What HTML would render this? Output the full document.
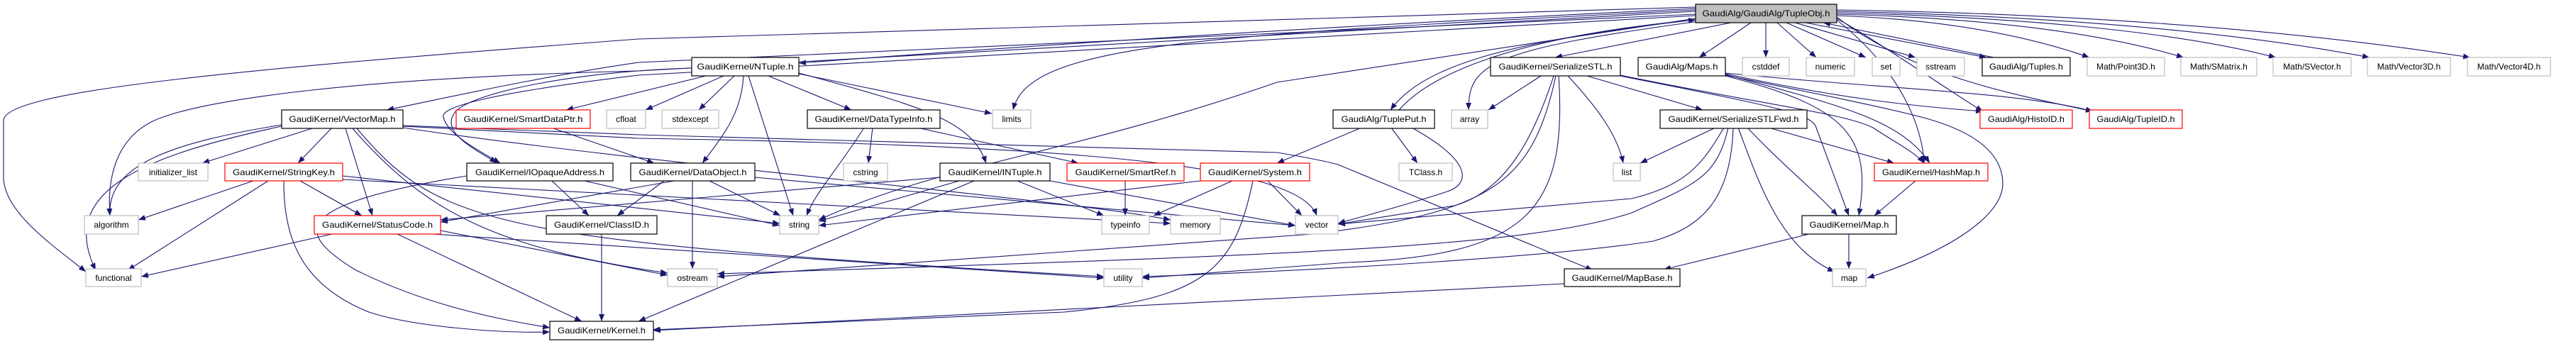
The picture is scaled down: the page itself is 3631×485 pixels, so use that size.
<!DOCTYPE html>
<html><head><meta charset="utf-8"><style>
html,body{margin:0;padding:0;background:#fff;}
svg{display:block;}
text{font-family:"Liberation Sans",sans-serif;font-size:12px;fill:#000;}
.e{fill:none;stroke:#191970;stroke-width:1.1;marker-end:url(#a);}
</style></head><body>
<svg width="3631" height="485" viewBox="0 0 3631 485" xmlns="http://www.w3.org/2000/svg">
<defs><marker id="a" markerUnits="userSpaceOnUse" markerWidth="11" markerHeight="8" refX="10" refY="4" orient="auto"><path d="M0,0 L10,4 L0,8 z" fill="#191970"/></marker></defs>
<rect width="3631" height="485" fill="#fff"/>
<g>
<path class="e" d="M2440,32 L2192,81"/>
<path class="e" d="M2468,32 L2395,81"/>
<path class="e" d="M2489,32 L2489,81"/>
<path class="e" d="M2505,32 L2560,81"/>
<path class="e" d="M2518,32 L2630,81"/>
<path class="e" d="M2530,32 L2700,81"/>
<path class="e" d="M2545,32 L2800,81"/>
<path class="e" d="M2810,81 L2570,32"/>
<path class="e" d="M2589,22 Q2800,30 2945,81"/>
<path class="e" d="M2589,20 Q2900,28 3078,81"/>
<path class="e" d="M2589,18 Q3000,28 3208,81"/>
<path class="e" d="M2589,16 Q3050,26 3340,81"/>
<path class="e" d="M2589,14 Q3100,22 3482,81"/>
<path class="e" d="M2589,26 C2650,60 2750,130 2795,157"/>
<path class="e" d="M2589,24 C2700,110 2850,135 2950,157"/>
<path class="e" d="M2589,28 C2680,100 2710,180 2712,230"/>
<path class="e" d="M2432,106 C2550,130 2650,150 2700,163 C2790,185 2823,220 2823,259 C2823,300 2760,350 2632,392"/>
<path class="e" d="M2390,12 Q1700,45 1126,89"/>
<path class="e" d="M2390,14 C1700,50 1450,60 1428,155"/>
<path class="e" d="M2390,10 L900,55 C300,100 5,130 5,170 L5,250 C5,300 80,350 121,383"/>
<path class="e" d="M2390,16 L900,100 C500,110 300,140 230,165 C170,185 150,240 155,304"/>
<path class="e" d="M2390,20 L900,88 C750,110 620,140 545,155"/>
<path class="e" d="M2390,22 L900,106 C700,130 620,150 625,165 C630,190 680,215 705,230"/>
<path class="e" d="M2390,28 C2100,60 2000,100 1960,155"/>
<path class="e" d="M1972,155 C2020,100 2150,50 2390,28"/>
<path class="e" d="M2395,30 C2100,70 2070,90 2070,155"/>
<path class="e" d="M2390,26 L1800,116 C1500,220 1330,230 1154,310"/>
<path class="e" d="M995,107 L798,155"/>
<path class="e" d="M1020,107 L910,155"/>
<path class="e" d="M1035,107 L985,155"/>
<path class="e" d="M1048,107 C1045,160 1020,190 990,230"/>
<path class="e" d="M1055,107 L1118,304"/>
<path class="e" d="M1083,107 L1200,155"/>
<path class="e" d="M1126,104 L1398,160"/>
<path class="e" d="M1126,103 C1300,150 1370,170 1390,230"/>
<path class="e" d="M975,96 C820,100 660,130 640,160 C620,190 680,215 700,230"/>
<path class="e" d="M780,181 L922,230"/>
<path class="e" d="M440,181 L285,230"/>
<path class="e" d="M467,181 L420,230"/>
<path class="e" d="M487,181 L525,304"/>
<path class="e" d="M397,176 C250,200 150,230 155,304"/>
<path class="e" d="M397,178 C200,220 80,270 135,381"/>
<path class="e" d="M497,181 C600,300 700,350 941,385"/>
<path class="e" d="M503,181 C620,320 700,340 1556,390"/>
<path class="e" d="M568,177 L900,190 L1800,215 Q1860,225 1886,232 L2245,381"/>
<path class="e" d="M568,178 L900,195 C1500,205 1830,230 1856,304"/>
<path class="e" d="M568,180 C900,230 1500,280 1650,310"/>
<path class="e" d="M357,255 L195,310"/>
<path class="e" d="M378,255 L180,381"/>
<path class="e" d="M423,255 L510,304"/>
<path class="e" d="M400,255 C400,330 420,400 520,440 C580,460 700,470 775,468"/>
<path class="e" d="M483,248 L1099,315"/>
<path class="e" d="M483,253 L1650,315"/>
<path class="e" d="M778,255 L830,304"/>
<path class="e" d="M658,248 C400,290 420,330 500,380 C600,430 700,450 775,462"/>
<path class="e" d="M824,255 L1099,318"/>
<path class="e" d="M950,255 L621,313"/>
<path class="e" d="M936,255 L870,304"/>
<path class="e" d="M976,255 L976,379"/>
<path class="e" d="M1000,255 L1100,304"/>
<path class="e" d="M1064,250 L1826,318"/>
<path class="e" d="M1325,250 L621,310"/>
<path class="e" d="M1352,255 L1154,312"/>
<path class="e" d="M1373,255 L900,453"/>
<path class="e" d="M1434,255 L1556,304"/>
<path class="e" d="M1480,255 L1826,318"/>
<path class="e" d="M1218,180 C1180,240 1150,270 1137,304"/>
<path class="e" d="M1230,180 L1224,230"/>
<path class="e" d="M1293,180 L1520,230"/>
<path class="e" d="M1586,255 L1586,304"/>
<path class="e" d="M1692,255 L1154,318"/>
<path class="e" d="M1737,255 L1626,304"/>
<path class="e" d="M1787,255 L1835,304"/>
<path class="e" d="M1766,255 C1740,380 1700,420 1500,440 L920,465"/>
<path class="e" d="M1919,180 L1800,230"/>
<path class="e" d="M1961,180 L1998,230"/>
<path class="e" d="M1990,180 C2080,230 2070,260 2040,270 C1980,290 1920,305 1886,315"/>
<path class="e" d="M2172,107 L2098,155"/>
<path class="e" d="M2210,107 C2250,150 2280,190 2288,230"/>
<path class="e" d="M2237,107 L2400,155"/>
<path class="e" d="M2284,107 C2500,150 2555,160 2560,180 L2606,304"/>
<path class="e" d="M2284,106 C2500,150 2600,160 2640,180 C2670,200 2700,215 2712,230"/>
<path class="e" d="M2190,107 C2160,200 2120,270 2050,290 L1886,316"/>
<path class="e" d="M2193,107 C2160,260 2100,300 1850,330 L1011,390"/>
<path class="e" d="M2197,107 C2210,300 2150,360 1900,370 L1610,392"/>
<path class="e" d="M2418,180 L2312,230"/>
<path class="e" d="M2430,180 C2400,230 2380,260 2300,280 L1886,316"/>
<path class="e" d="M2436,180 C2420,250 2390,260 2300,300 C2150,350 1800,360 1011,386"/>
<path class="e" d="M2443,180 C2440,280 2400,320 2330,340 C2200,360 1900,380 1610,390"/>
<path class="e" d="M2450,180 C2480,260 2510,350 2586,383"/>
<path class="e" d="M2463,180 C2520,240 2560,270 2590,304"/>
<path class="e" d="M2493,180 L2670,230"/>
<path class="e" d="M2700,255 L2642,304"/>
<path class="e" d="M2550,330 L2345,380"/>
<path class="e" d="M2606,330 L2606,379"/>
<path class="e" d="M2205,400 L921,466"/>
<path class="e" d="M2432,105 C2600,150 2680,170 2720,230"/>
<path class="e" d="M2432,107 C2600,150 2640,190 2620,304"/>
<path class="e" d="M2432,104 C2600,140 2700,150 2795,157"/>
<path class="e" d="M2432,103 C2650,125 2850,130 2950,157"/>
<path class="e" d="M468,330 L199,390"/>
<path class="e" d="M560,330 L820,453"/>
<path class="e" d="M610,330 L1556,392"/>
<path class="e" d="M621,325 L941,388"/>
<path class="e" d="M848,330 L848,453"/>
</g>
<g stroke-width="1.2">
<rect x="2390" y="6" width="199" height="26" fill="#bfbfbf" stroke="#000"/><text x="2489.5" y="23" text-anchor="middle" textLength="180" lengthAdjust="spacingAndGlyphs">GaudiAlg/GaudiAlg/TupleObj.h</text>
<g fill="#fff">
<rect x="975" y="81" width="151" height="26" stroke="#000"/>
<rect x="2101" y="81" width="183" height="26" stroke="#000"/>
<rect x="2309" y="81" width="123" height="26" stroke="#000"/>
<rect x="2456" y="81" width="66" height="26" stroke="#bfbfbf"/>
<rect x="2546" y="81" width="68" height="26" stroke="#bfbfbf"/>
<rect x="2639" y="81" width="39" height="26" stroke="#bfbfbf"/>
<rect x="2702" y="81" width="67" height="26" stroke="#bfbfbf"/>
<rect x="2794" y="81" width="124" height="26" stroke="#000"/>
<rect x="2942" y="81" width="109" height="26" stroke="#bfbfbf"/>
<rect x="3074" y="81" width="107" height="26" stroke="#bfbfbf"/>
<rect x="3204" y="81" width="110" height="26" stroke="#bfbfbf"/>
<rect x="3337" y="81" width="117" height="26" stroke="#bfbfbf"/>
<rect x="3478" y="81" width="117" height="26" stroke="#bfbfbf"/>
<rect x="397" y="155" width="171" height="26" stroke="#000"/>
<rect x="643" y="155" width="189" height="26" stroke="#ff0000"/>
<rect x="855" y="155" width="55" height="26" stroke="#bfbfbf"/>
<rect x="933" y="155" width="80" height="26" stroke="#bfbfbf"/>
<rect x="1138" y="155" width="187" height="26" stroke="#000"/>
<rect x="1399" y="155" width="54" height="26" stroke="#bfbfbf"/>
<rect x="1879" y="155" width="143" height="26" stroke="#000"/>
<rect x="2046" y="155" width="51" height="26" stroke="#bfbfbf"/>
<rect x="2340" y="155" width="207" height="26" stroke="#000"/>
<rect x="2791" y="155" width="130" height="26" stroke="#ff0000"/>
<rect x="2945" y="155" width="131" height="26" stroke="#ff0000"/>
<rect x="195" y="230" width="98" height="25" stroke="#bfbfbf"/>
<rect x="317" y="230" width="166" height="25" stroke="#ff0000"/>
<rect x="658" y="230" width="206" height="25" stroke="#000"/>
<rect x="889" y="230" width="175" height="25" stroke="#000"/>
<rect x="1189" y="230" width="62" height="25" stroke="#bfbfbf"/>
<rect x="1325" y="230" width="155" height="25" stroke="#000"/>
<rect x="1504" y="230" width="165" height="25" stroke="#ff0000"/>
<rect x="1692" y="230" width="154" height="25" stroke="#ff0000"/>
<rect x="1972" y="230" width="75" height="25" stroke="#bfbfbf"/>
<rect x="2274" y="230" width="38" height="25" stroke="#bfbfbf"/>
<rect x="2642" y="230" width="160" height="25" stroke="#ff0000"/>
<rect x="119" y="304" width="76" height="26" stroke="#bfbfbf"/>
<rect x="443" y="304" width="178" height="26" stroke="#ff0000"/>
<rect x="770" y="304" width="156" height="26" stroke="#000"/>
<rect x="1099" y="304" width="55" height="26" stroke="#bfbfbf"/>
<rect x="1553" y="304" width="67" height="26" stroke="#bfbfbf"/>
<rect x="1650" y="304" width="70" height="26" stroke="#bfbfbf"/>
<rect x="1826" y="304" width="60" height="26" stroke="#bfbfbf"/>
<rect x="2540" y="304" width="133" height="26" stroke="#000"/>
<rect x="121" y="379" width="78" height="25" stroke="#bfbfbf"/>
<rect x="941" y="379" width="70" height="25" stroke="#bfbfbf"/>
<rect x="1556" y="379" width="54" height="25" stroke="#bfbfbf"/>
<rect x="2205" y="379" width="163" height="25" stroke="#000"/>
<rect x="2583" y="379" width="47" height="25" stroke="#bfbfbf"/>
<rect x="775" y="453" width="146" height="26" stroke="#000"/>
</g>
</g>
<g text-anchor="middle">
<text x="1050.5" y="98" textLength="136" lengthAdjust="spacingAndGlyphs">GaudiKernel/NTuple.h</text>
<text x="2192.5" y="98" textLength="160" lengthAdjust="spacingAndGlyphs">GaudiKernel/SerializeSTL.h</text>
<text x="2370.5" y="98" textLength="102" lengthAdjust="spacingAndGlyphs">GaudiAlg/Maps.h</text>
<text x="2489" y="98">cstddef</text>
<text x="2580" y="98">numeric</text>
<text x="2658.5" y="98">set</text>
<text x="2735.5" y="98">sstream</text>
<text x="2856" y="98" textLength="104" lengthAdjust="spacingAndGlyphs">GaudiAlg/Tuples.h</text>
<text x="2996.5" y="98">Math/Point3D.h</text>
<text x="3127.5" y="98">Math/SMatrix.h</text>
<text x="3259" y="98">Math/SVector.h</text>
<text x="3395.5" y="98">Math/Vector3D.h</text>
<text x="3536.5" y="98">Math/Vector4D.h</text>
<text x="482.5" y="172" textLength="150" lengthAdjust="spacingAndGlyphs">GaudiKernel/VectorMap.h</text>
<text x="737.5" y="172" textLength="168" lengthAdjust="spacingAndGlyphs">GaudiKernel/SmartDataPtr.h</text>
<text x="882.5" y="172">cfloat</text>
<text x="973" y="172">stdexcept</text>
<text x="1231.5" y="172" textLength="166" lengthAdjust="spacingAndGlyphs">GaudiKernel/DataTypeInfo.h</text>
<text x="1426" y="172">limits</text>
<text x="1950.5" y="172" textLength="120" lengthAdjust="spacingAndGlyphs">GaudiAlg/TuplePut.h</text>
<text x="2071.5" y="172">array</text>
<text x="2443.5" y="172" textLength="184" lengthAdjust="spacingAndGlyphs">GaudiKernel/SerializeSTLFwd.h</text>
<text x="2856" y="172" textLength="108" lengthAdjust="spacingAndGlyphs">GaudiAlg/HistoID.h</text>
<text x="3010.5" y="172" textLength="110" lengthAdjust="spacingAndGlyphs">GaudiAlg/TupleID.h</text>
<text x="244" y="247">initializer_list</text>
<text x="400" y="247" textLength="144" lengthAdjust="spacingAndGlyphs">GaudiKernel/StringKey.h</text>
<text x="761" y="247" textLength="182" lengthAdjust="spacingAndGlyphs">GaudiKernel/IOpaqueAddress.h</text>
<text x="976.5" y="247" textLength="152" lengthAdjust="spacingAndGlyphs">GaudiKernel/DataObject.h</text>
<text x="1220" y="247">cstring</text>
<text x="1402.5" y="247" textLength="132" lengthAdjust="spacingAndGlyphs">GaudiKernel/INTuple.h</text>
<text x="1586.5" y="247" textLength="142" lengthAdjust="spacingAndGlyphs">GaudiKernel/SmartRef.h</text>
<text x="1769" y="247" textLength="132" lengthAdjust="spacingAndGlyphs">GaudiKernel/System.h</text>
<text x="2009.5" y="247">TClass.h</text>
<text x="2293" y="247">list</text>
<text x="2722" y="247" textLength="138" lengthAdjust="spacingAndGlyphs">GaudiKernel/HashMap.h</text>
<text x="157" y="321">algorithm</text>
<text x="532" y="321" textLength="156" lengthAdjust="spacingAndGlyphs">GaudiKernel/StatusCode.h</text>
<text x="848" y="321" textLength="134" lengthAdjust="spacingAndGlyphs">GaudiKernel/ClassID.h</text>
<text x="1126.5" y="321">string</text>
<text x="1586.5" y="321">typeinfo</text>
<text x="1685" y="321">memory</text>
<text x="1856" y="321">vector</text>
<text x="2606.5" y="321" textLength="112" lengthAdjust="spacingAndGlyphs">GaudiKernel/Map.h</text>
<text x="160" y="396">functional</text>
<text x="976" y="396">ostream</text>
<text x="1583" y="396">utility</text>
<text x="2286.5" y="396" textLength="142" lengthAdjust="spacingAndGlyphs">GaudiKernel/MapBase.h</text>
<text x="2606.5" y="396">map</text>
<text x="848" y="470" textLength="124" lengthAdjust="spacingAndGlyphs">GaudiKernel/Kernel.h</text>
</g>
</svg>
</body></html>
